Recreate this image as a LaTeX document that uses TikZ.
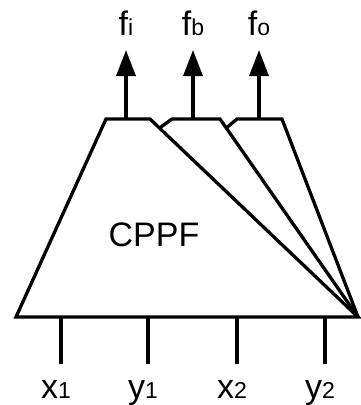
\documentclass[tikz,border=0pt]{standalone}
\usepackage{fontspec}
\setmainfont{Liberation Sans}
\usetikzlibrary{arrows.meta, positioning}

\newcommand{\smallsub}[1]{{\fontsize{23}{23}\selectfont #1}}

\begin{document}
\begin{tikzpicture}[x=1pt, y=-1pt, line width=3.3pt,
    lbl/.style={font=\fontsize{34}{36}\selectfont, inner sep=0pt},
    inlbl/.style={lbl, below=15pt of #1, xshift=-5pt},
    outarrow/.style={-{Triangle[length=26pt, width=19pt]}}]
  \useasboundingbox (0,0) rectangle (361,405);
  % main block
  \coordinate (bl) at (16,317);
  \coordinate (br) at (358,317);
  \coordinate (tl) at (106,119);
  \coordinate (tr) at (150,119);
  \draw (bl) -- (tl) -- (tr) -- (br) -- cycle;
  \node[lbl] (cppf) at (154,235) {CPPF};
  % second and third slice
  \coordinate (sb) at (159.5,128);
  \coordinate (sbl) at (172,119);
  \coordinate (sbr) at (220,119);
  \draw (sb) -- (sbl) -- (sbr) -- (br);
  \coordinate (so) at (226.3,128);
  \coordinate (sol) at (237,119);
  \coordinate (sor) at (282,119);
  \draw (so) -- (sol) -- (sor) -- (br);
  % outputs
  \coordinate (oi) at (126,119);
  \coordinate (ti) at (126,50);
  \coordinate (ob) at (193,119);
  \coordinate (tb) at (193,50);
  \coordinate (oo) at (259,119);
  \coordinate (to) at (259,50);
  \draw[outarrow] (oi) -- (ti);
  \draw[outarrow] (ob) -- (tb);
  \draw[outarrow] (oo) -- (to);
  \node[lbl, above=13pt of ti] (fi) {f\smallsub{i}};
  \node[lbl, above=13pt of tb] (fb) {f\smallsub{b}};
  \node[lbl, above=13pt of to] (fo) {f\smallsub{o}};
  % inputs
  \foreach \name/\px in {xa/61, ya/148, xb/237, yb/325} {
    \coordinate (s\name) at (\px,317);
    \coordinate (e\name) at (\px,364);
    \draw (s\name) -- (e\name);
  }
  \node[inlbl=exa] (x1) {x\smallsub{1}};
  \node[inlbl=eya] (y1) {y\smallsub{1}};
  \node[inlbl=exb] (x2) {x\smallsub{2}};
  \node[inlbl=eyb] (y2) {y\smallsub{2}};
\end{tikzpicture}
\end{document}
